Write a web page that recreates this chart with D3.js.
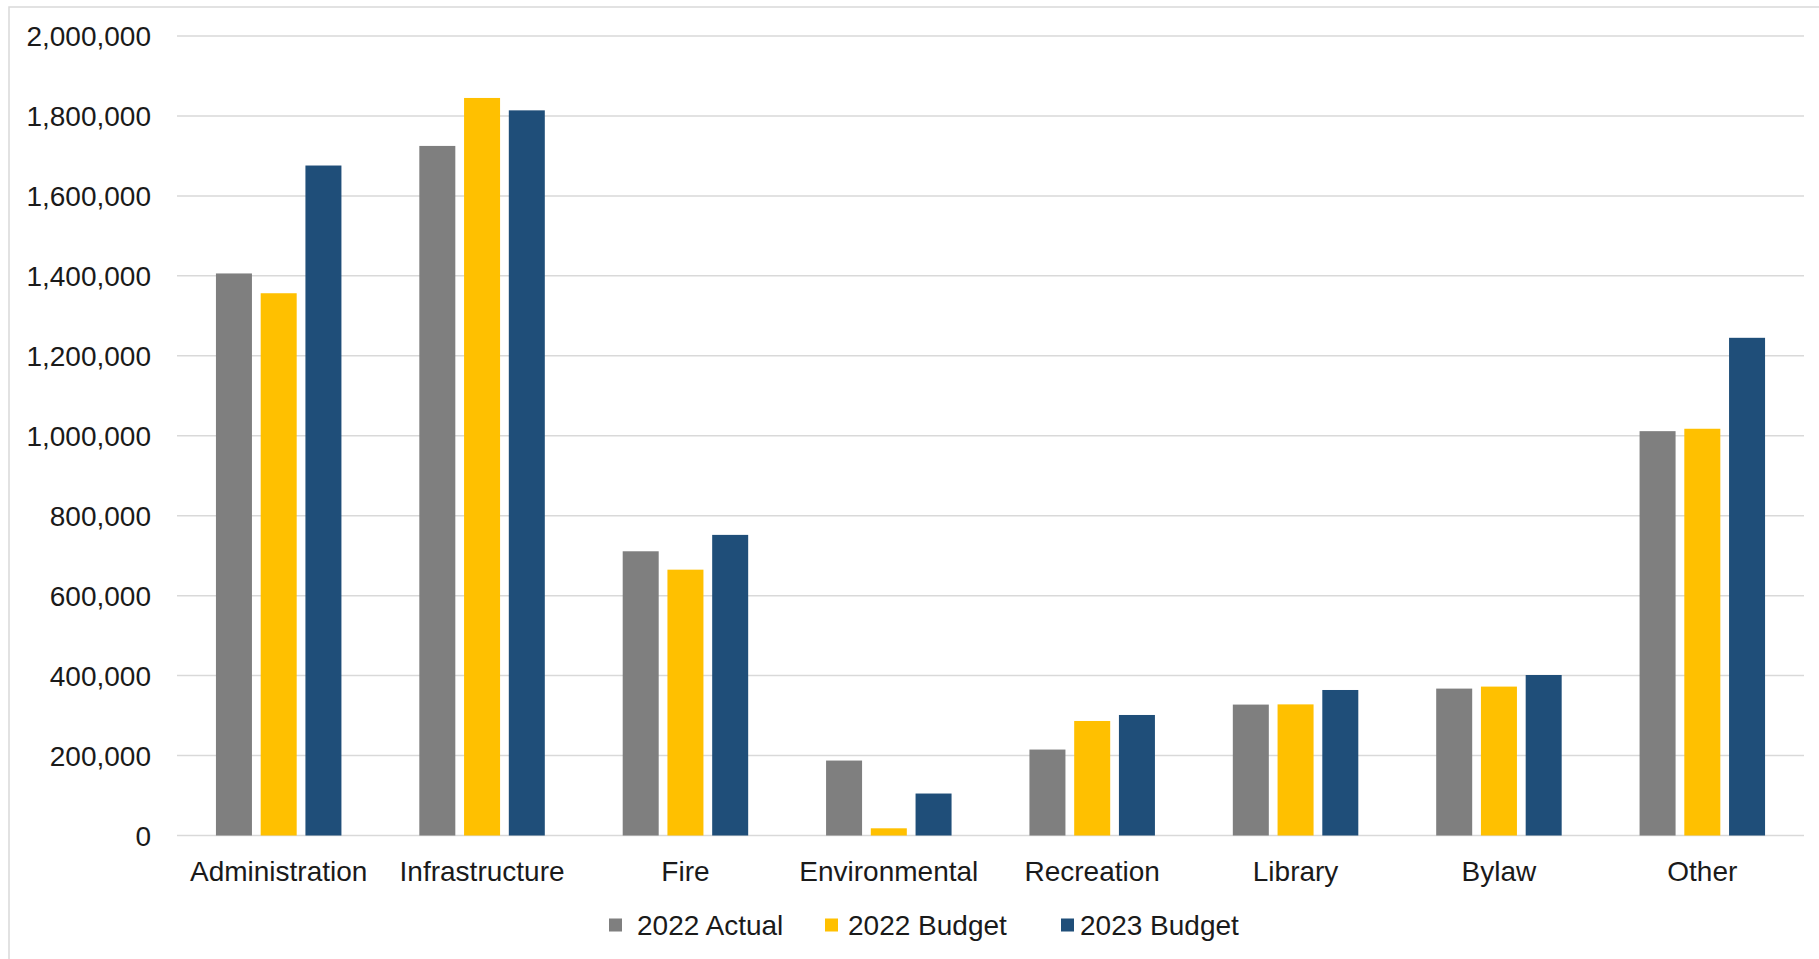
<!DOCTYPE html>
<html>
<head>
<meta charset="utf-8">
<script src="https://cdn.jsdelivr.net/npm/d3@7"></script>
<style>
  html, body { margin: 0; padding: 0; background: #ffffff; }
  svg { display: block; }
  text { font-family: "Liberation Sans", Arial, sans-serif; fill: #1a1a1a; }
</style>
</head>
<body>
<svg id="chart" width="1819" height="959"></svg>
<script>
// Departments and their spending by series
const categories = ["Administration", "Infrastructure", "Fire", "Environmental", "Recreation", "Library", "Bylaw", "Other"];
const seriesNames = ["2022 Actual", "2022 Budget", "2023 Budget"];
const actual2022 = [1406000, 1725000, 711000, 187500, 215000, 327500, 367500, 1011500];
const budget2022 = [1356500, 1845000, 665000, 18000, 286500, 328000, 372500, 1017500];
const budget2023 = [1676000, 1814000, 752000, 105000, 301500, 364000, 401500, 1245000];
const yTicks = [0, 200000, 400000, 600000, 800000, 1000000, 1200000, 1400000, 1600000, 1800000, 2000000];

const seriesValues = [actual2022, budget2022, budget2023];
const colors = ["#7f7f7f", "#ffc000", "#1f4e79"];

const svg = d3.select("#chart");
const W = 1819, H = 959;
const plot = { left: 177, right: 1804, top: 36, bottom: 835.5 };

// Outer chart frame (runs past the right and bottom edges)
svg.append("rect")
  .attr("x", 9).attr("y", 7)
  .attr("width", W + 20).attr("height", H + 20)
  .attr("fill", "none").attr("stroke", "#d9d9d9").attr("stroke-width", 1.5);

const x = d3.scaleBand().domain(categories).range([plot.left, plot.right]).paddingInner(0).paddingOuter(0);
const y = d3.scaleLinear().domain([0, 2000000]).range([plot.bottom, plot.top]);

const bw = x.bandwidth();
const barW = bw * 0.177;
const pitch = bw * 0.22;
const sub = d3.scaleLinear().domain([0, 2]).range([-pitch, pitch]);

// Gridlines
svg.append("g").selectAll("line").data(yTicks).join("line")
  .attr("x1", plot.left).attr("x2", plot.right)
  .attr("y1", d => y(d)).attr("y2", d => y(d))
  .attr("stroke", "#d9d9d9").attr("stroke-width", 1.5);

// Y axis labels
const yAxis = d3.axisLeft(y).tickValues(yTicks).tickFormat(d3.format(",")).tickSize(0).tickPadding(0);
const yg = svg.append("g").attr("transform", "translate(151,0)").call(yAxis);
yg.select(".domain").remove();
yg.selectAll("text").attr("font-size", 28).attr("dy", "0.35em")
  .style("font-family", "'Liberation Sans', Arial, sans-serif").attr("fill", "#1a1a1a");

// Bars
const bars = [];
seriesValues.forEach((vals, s) => vals.forEach((v, i) => bars.push({ s, cat: categories[i], v })));
svg.append("g").selectAll("rect").data(bars).join("rect")
  .attr("x", d => x(d.cat) + bw / 2 + sub(d.s) - barW / 2)
  .attr("width", barW)
  .attr("y", d => y(d.v))
  .attr("height", d => y(0) - y(d.v))
  .attr("fill", d => colors[d.s]);

// Category labels
const xAxis = d3.axisBottom(x).tickSize(0).tickPadding(0);
const xg = svg.append("g").attr("transform", `translate(0,${plot.bottom})`).call(xAxis);
xg.select(".domain").remove();
xg.selectAll("text").attr("font-size", 28).attr("dy", null).attr("y", 45)
  .style("font-family", "'Liberation Sans', Arial, sans-serif").attr("fill", "#1a1a1a");

// Legend: swatch position and label offset for each entry
const legendSlots = [609, 825, 1061];
const labelOffsets = [28, 23, 19];
const legend = svg.append("g").attr("transform", "translate(0,925)");
const items = legend.selectAll("g").data(seriesNames).join("g")
  .attr("transform", (d, i) => `translate(${legendSlots[i]},0)`);
items.append("rect").attr("x", 0).attr("y", -6.5).attr("width", 13).attr("height", 13)
  .attr("fill", (d, i) => colors[i]);
items.append("text").attr("x", (d, i) => labelOffsets[i]).attr("y", 0).attr("dy", "0.35em")
  .attr("font-size", 28).text(d => d);
</script>
</body>
</html>
